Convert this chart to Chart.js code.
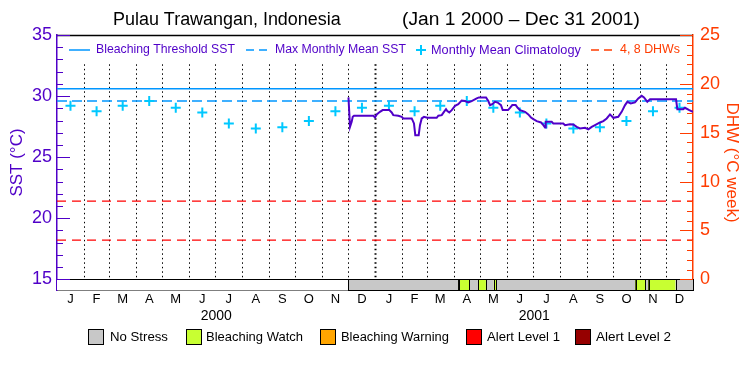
<!DOCTYPE html>
<html><head><meta charset="utf-8">
<script src="https://cdn.jsdelivr.net/npm/chart.js@4.4.0/dist/chart.umd.min.js"></script>
<style>html,body{margin:0;padding:0;background:#fff}#wrap{width:750px;height:375px}</style>
</head><body><div id="wrap"><canvas id="c" width="750" height="375"></canvas></div>
<script>
// ---------- data ----------
const monthLabels = ['J','F','M','A','M','J','J','A','S','O','N','D','J','F','M','A','M','J','J','A','S','O','N','D'];
const monthStartDays = [0,31,60,91,121,152,182,213,244,274,305,335,366,397,425,456,486,517,547,578,609,639,670,700,731];
const yearLabels = ['2000','2001'];
const yearMidDays = [183, 548.5];
const climMonthly = [29.2,28.75,29.2,29.6,29.05,28.65,27.75,27.35,27.45,27.95,28.75,29.05];
const bleachingThreshold = 30.6;
const maxMonthlyMean = 29.6;
const dhwLevels = [4, 8];
const sstDays = [335,336.8,338.7,339.9,341.4,363.6,365.5,367.5,371.2,374.3,381.9,384.7,386.5,392.3,396.2,398,407.7,410.3,411.8,415.7,417.2,419.2,421.8,425.6,436.4,438.3,442.2,444.8,447.1,448.6,450.9,453.7,457.5,461.2,465.1,468.9,472.7,476.6,482.4,485,493.1,495.7,497.7,500.3,503.4,506.5,510.3,512.3,518.4,520.7,523.3,527.2,529.5,532.2,537.9,541.7,544.8,547.5,551.4,556.3,559,560.9,561.7,568.6,570.4,581.9,583.9,589.6,593.4,597.3,601.1,606.9,610.7,614.6,618.4,624.1,627.9,631.8,635.6,639.4,645.1,649,652.9,655.5,659.4,664.3,668.1,672,674.7,678.5,681.6,711.5,713,719.8,721.8,726.7,731];
const sstValues = [29.89,27.48,27.89,28.30,28.39,28.39,28.25,28.50,28.71,28.85,28.85,28.66,28.44,28.39,28.30,28.17,28.17,27.76,26.80,26.80,27.62,28.17,28.30,28.22,28.22,28.39,28.44,28.71,28.93,28.77,28.66,28.85,29.20,29.34,29.63,29.59,29.48,29.59,29.81,29.89,29.89,29.59,29.26,29.34,29.53,29.47,29.26,28.85,28.85,29.04,29.26,29.26,29.04,28.85,28.71,28.50,28.25,28.11,27.95,27.84,27.62,27.43,27.89,27.89,27.76,27.76,27.62,27.70,27.68,27.48,27.35,27.40,27.27,27.48,27.62,27.84,27.95,28.17,28.50,28.22,28.30,28.71,29.26,29.53,29.40,29.48,29.81,30.02,29.89,29.53,29.73,29.73,28.93,28.93,29.04,28.85,28.71];
const stressStart = [335,462,474,484,493,502,505,665,676,680,711];
const stressEnd   = [462,474,484,493,502,505,665,676,680,711,731];
const stressLevel = [0,1,0,1,0,1,0,1,0,1,0];
const stressNames = ['No Stress','Bleaching Watch','Bleaching Warning','Alert Level 1','Alert Level 2'];
const stressColors = ['#c8c8c8','#c8ff32','#ffa500','#ff0000','#960000'];
const sstTicks = [15,20,25,30,35];
const dhwTicks = [0,5,10,15,20,25];

// ---------- styles ----------
const PURPLE = '#5000c8', RED = '#ff3c00', LBLUE = '#0096ff', CYAN = '#00c8ff';
const FONT = '"Liberation Sans"';
Chart.defaults.font.family = FONT;

function fitText(ctx, text, x, y, w, color) {
  ctx.save();
  ctx.font = '10px ' + FONT;
  const fs = 10 * w / ctx.measureText(text).width;
  ctx.font = fs.toFixed(2) + 'px ' + FONT;
  ctx.fillStyle = color; ctx.textBaseline = 'middle'; ctx.textAlign = 'left';
  ctx.fillText(text, x, y);
  ctx.restore();
}

const climPoints = [];
for (let i = 0; i < 24; i++) {
  climPoints.push({x: (monthStartDays[i] + monthStartDays[i+1]) / 2, y: climMonthly[i % 12]});
}

const decor = {
  id: 'decor',
  beforeDatasetsDraw(chart) {
    const {ctx, chartArea: a, scales} = chart;
    const x = scales.x, y = scales.y;
    ctx.save();
    // dotted month lines
    ctx.strokeStyle = '#000';
    ctx.setLineDash([1.5, 3]);
    for (let i = 1; i < monthStartDays.length - 1; i++) {
      const px = Math.round(x.getPixelForValue(monthStartDays[i])) + 0.5;
      ctx.lineWidth = (monthStartDays[i] === 366) ? 2 : 1;
      ctx.beginPath();
      ctx.moveTo(px, y.getPixelForValue(32.6));
      ctx.lineTo(px, y.getPixelForValue(15));
      ctx.stroke();
    }
    ctx.setLineDash([]);
    // stress bar
    const top = y.getPixelForValue(15), bot = a.bottom;
    ctx.fillStyle = '#fff';
    ctx.fillRect(a.left, top, a.right - a.left, bot - top);
    ctx.lineWidth = 1;
    for (let i = 0; i < stressStart.length; i++) {
      const x0 = x.getPixelForValue(stressStart[i]), x1 = x.getPixelForValue(stressEnd[i]);
      ctx.fillStyle = stressColors[stressLevel[i]];
      ctx.fillRect(x0, top, x1 - x0, bot - top);
      ctx.strokeStyle = '#000';
      ctx.strokeRect(Math.round(x0) + 0.5, Math.round(top) + 0.5, Math.round(x1 - x0), Math.round(bot - top));
    }
    ctx.beginPath();
    ctx.moveTo(a.left, Math.round(top) + 0.5);
    ctx.lineTo(a.right, Math.round(top) + 0.5);
    ctx.stroke();
    ctx.restore();
  },
  afterDraw(chart) {
    const {ctx, chartArea: a, scales} = chart;
    const x = scales.x, y = scales.y, y2 = scales.y2;
    ctx.save();
    // top frame
    ctx.strokeStyle = '#000'; ctx.lineWidth = 1.5;
    ctx.beginPath(); ctx.moveTo(a.left, a.top + 0.5); ctx.lineTo(a.right, a.top + 0.5); ctx.stroke();
    ctx.lineWidth = 1;
    // inward tick marks left
    ctx.strokeStyle = PURPLE;
    for (let v = 15; v <= 35; v++) {
      const py = Math.round(y.getPixelForValue(v)) + 0.5;
      const len = (v % 5 === 0) ? 13 : 6;
      ctx.beginPath(); ctx.moveTo(a.left, py); ctx.lineTo(a.left + len, py); ctx.stroke();
    }
    ctx.strokeStyle = RED;
    for (let v = 0; v <= 25; v++) {
      const py = Math.round(y2.getPixelForValue(v)) + 0.5;
      const len = (v % 5 === 0) ? 13 : 6;
      ctx.beginPath(); ctx.moveTo(a.right, py); ctx.lineTo(a.right - len, py); ctx.stroke();
    }
    // title
    fitText(ctx, 'Pulau Trawangan, Indonesia', 113, 20, 228, '#000');
    fitText(ctx, '(Jan 1 2000 \u2013 Dec 31 2001)', 402, 20, 238, '#000');
    // top legend
    const ly = 50;
    ctx.strokeStyle = LBLUE; ctx.lineWidth = 1.5;
    ctx.beginPath(); ctx.moveTo(69, ly); ctx.lineTo(90, ly); ctx.stroke();
    fitText(ctx, 'Bleaching Threshold SST', 96, ly, 139, PURPLE);
    ctx.setLineDash([8, 5]);
    ctx.beginPath(); ctx.moveTo(246, ly); ctx.lineTo(269, ly); ctx.stroke();
    fitText(ctx, 'Max Monthly Mean SST', 275, ly, 131, PURPLE);
    ctx.setLineDash([]);
    ctx.strokeStyle = CYAN; ctx.lineWidth = 2;
    ctx.beginPath(); ctx.moveTo(416, ly); ctx.lineTo(426, ly); ctx.moveTo(421, ly - 5); ctx.lineTo(421, ly + 5); ctx.stroke();
    fitText(ctx, 'Monthly Mean Climatology', 431, ly, 150, PURPLE);
    ctx.strokeStyle = RED; ctx.lineWidth = 1.5; ctx.setLineDash([8, 5]);
    ctx.beginPath(); ctx.moveTo(591, ly); ctx.lineTo(614, ly); ctx.stroke();
    ctx.setLineDash([]);
    fitText(ctx, '4, 8 DHWs', 620, ly, 60, RED);
    // year labels
    ctx.fillStyle = '#000'; ctx.font = '14px ' + FONT; ctx.textAlign = 'center'; ctx.textBaseline = 'middle';
    for (let i = 0; i < yearLabels.length; i++) ctx.fillText(yearLabels[i], x.getPixelForValue(yearMidDays[i]), 316);
    // bottom legend
    const bx = [88, 186, 320, 466, 575], tx = [110, 206, 341, 487, 596], tw = [58, 97, 108, 73, 75];
    for (let i = 0; i < 5; i++) {
      ctx.fillStyle = stressColors[i];
      ctx.fillRect(bx[i], 329, 15, 15);
      ctx.strokeStyle = '#000'; ctx.lineWidth = 1;
      ctx.strokeRect(bx[i] + 0.5, 329.5, 15, 15);
      fitText(ctx, stressNames[i], tx[i], 337, tw[i], '#000');
    }
    ctx.restore();
  }
};

new Chart(document.getElementById('c'), {
  data: {
    datasets: [
      {type: 'line', label: 'SST', data: sstDays.map((d, i) => ({x: d, y: sstValues[i]})),
       borderColor: PURPLE, borderWidth: 2, pointRadius: 0, yAxisID: 'y', tension: 0},
      {type: 'scatter', label: 'Monthly Mean Climatology', data: climPoints, yAxisID: 'y',
       pointStyle: 'cross', pointRadius: 5, borderColor: CYAN, backgroundColor: CYAN, pointBorderWidth: 2},
      {type: 'line', label: 'Bleaching Threshold SST', data: [{x: 0, y: bleachingThreshold}, {x: 731, y: bleachingThreshold}],
       borderColor: LBLUE, borderWidth: 1.5, pointRadius: 0, yAxisID: 'y'},
      {type: 'line', label: 'Max Monthly Mean SST', data: [{x: 0, y: maxMonthlyMean}, {x: 731, y: maxMonthlyMean}],
       borderColor: LBLUE, borderWidth: 1.5, borderDash: [10, 5], pointRadius: 0, yAxisID: 'y'},
      {type: 'line', label: '4 DHW', data: [{x: 0, y: dhwLevels[0]}, {x: 731, y: dhwLevels[0]}],
       borderColor: '#ff0000', borderWidth: 1.2, borderDash: [9, 6], pointRadius: 0, yAxisID: 'y2'},
      {type: 'line', label: '8 DHW', data: [{x: 0, y: dhwLevels[1]}, {x: 731, y: dhwLevels[1]}],
       borderColor: '#ff0000', borderWidth: 1.2, borderDash: [9, 6], pointRadius: 0, yAxisID: 'y2'}
    ]
  },
  options: {
    responsive: false, animation: false, devicePixelRatio: 1,
    layout: {padding: {top: 35, left: 0, right: 0, bottom: 0}},
    plugins: {legend: {display: false}, title: {display: false}, tooltip: {enabled: false}},
    scales: {
      x: {
        type: 'linear', min: 0, max: 731, position: 'bottom',
        afterFit: s => { s.height = 85; },
        afterBuildTicks: s => { s.ticks = climPoints.map(p => ({value: p.x})); },
        ticks: {autoSkip: false, maxRotation: 0, padding: 2, color: '#000', font: {size: 13},
                callback: (v, i) => monthLabels[i]},
        grid: {drawOnChartArea: false, drawTicks: false, color: 'rgba(0,0,0,0)'},
        border: {display: true, color: '#000', width: 1.5}
      },
      y: {
        type: 'linear', position: 'left', min: 14.123, max: 35,
        afterFit: s => { s.width = 57; },
        afterBuildTicks: s => { s.ticks = sstTicks.map(v => ({value: v})); },
        ticks: {padding: 5, color: PURPLE, font: {size: 18}},
        grid: {drawOnChartArea: false, drawTicks: false, color: 'rgba(0,0,0,0)'},
        border: {display: true, color: PURPLE, width: 1.5},
        title: {display: true, text: 'SST (\u00B0C)', color: PURPLE, font: {size: 17}, padding: {top: 7, bottom: 0}}
      },
      y2: {
        type: 'linear', position: 'right', min: -1.095, max: 25,
        afterFit: s => { s.width = 57; },
        afterBuildTicks: s => { s.ticks = dhwTicks.map(v => ({value: v})); },
        ticks: {padding: 7, color: RED, font: {size: 18}},
        grid: {drawOnChartArea: false, drawTicks: false, color: 'rgba(0,0,0,0)'},
        border: {display: true, color: RED, width: 1.5},
        title: {display: true, text: 'DHW (\u00B0C week)', color: RED, font: {size: 17}, padding: {top: 8, bottom: 0}}
      }
    }
  },
  plugins: [decor]
});
</script>
</body></html>
